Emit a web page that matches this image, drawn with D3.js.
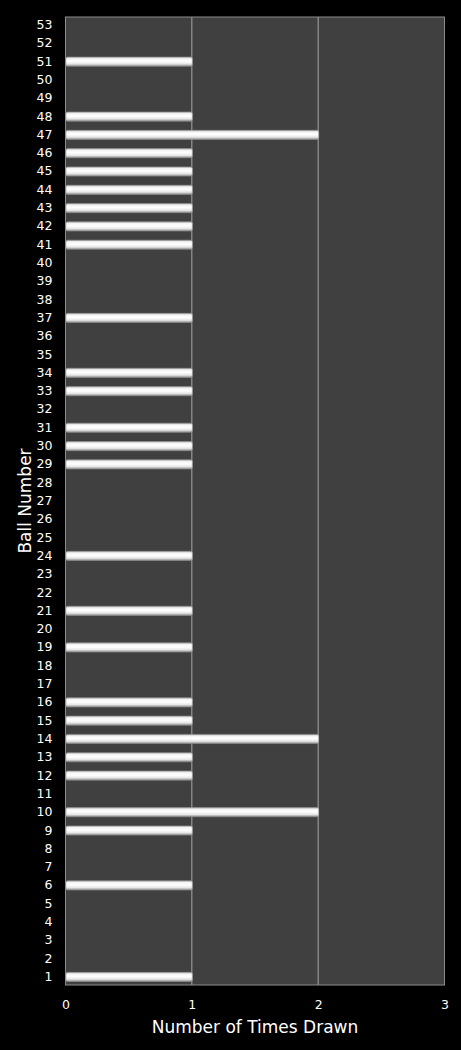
<!DOCTYPE html>
<html>
<head>
<meta charset="utf-8">
<script src="https://cdn.jsdelivr.net/npm/d3@7"></script>
<style>
  html, body { margin: 0; padding: 0; background: #000; }
  #chart { width: 461px; height: 1050px; }
  text { font-family: "DejaVu Sans", sans-serif; fill: #fff; }
</style>
</head>
<body>
<div id="chart"></div>
<script>
var balls = d3.range(1, 54);
var drawnBalls = [1, 6, 9, 10, 12, 13, 14, 15, 16, 19, 21, 24, 29, 30, 31, 33, 34, 37, 41, 42, 43, 44, 45, 46, 47, 48, 51];
var drawnCounts = [1, 1, 1, 2, 1, 1, 2, 1, 1, 1, 1, 1, 1, 1, 1, 1, 1, 1, 1, 1, 1, 1, 1, 1, 2, 1, 1];
var xTicks = [0, 1, 2, 3];

(function () {
  var width = 461;
  var height = 1050;
  var margin = { top: 17, right: 16.5, bottom: 65, left: 65.5 };
  var innerWidth = width - margin.left - margin.right;
  var innerHeight = height - margin.top - margin.bottom;

  var svg = d3.select('#chart').append('svg')
    .attr('width', width)
    .attr('height', height);

  var defs = svg.append('defs');
  var grad = defs.append('linearGradient')
    .attr('id', 'barGrad')
    .attr('x1', 0).attr('y1', 0).attr('x2', 0).attr('y2', 1);
  [['0%', '#b8b8b8'], ['18%', '#f4f4f4'], ['45%', '#ffffff'], ['75%', '#e6e6e6'], ['100%', '#8c8c8c']]
    .forEach(function (s) {
      grad.append('stop').attr('offset', s[0]).attr('stop-color', s[1]);
    });

  var plot = svg.append('g')
    .attr('transform', 'translate(' + margin.left + ',' + margin.top + ')');

  var x = d3.scaleLinear().domain([0, 3]).range([0, innerWidth]);
  var y = d3.scaleBand().domain(balls).range([innerHeight, 0])
    .paddingInner(0.5).paddingOuter(0.19);

  plot.append('rect')
    .attr('width', innerWidth)
    .attr('height', innerHeight)
    .attr('fill', '#404040');

  plot.append('g')
    .selectAll('line')
    .data(xTicks.slice(1, -1))
    .enter().append('line')
    .attr('x1', function (d) { return x(d); })
    .attr('x2', function (d) { return x(d); })
    .attr('y1', 0)
    .attr('y2', innerHeight)
    .attr('stroke', '#a6a6a6')
    .attr('stroke-width', 1);

  plot.append('rect')
    .attr('width', innerWidth)
    .attr('height', innerHeight)
    .attr('fill', 'none')
    .attr('stroke', '#8c8c8c')
    .attr('stroke-width', 1);

  var data = drawnBalls.map(function (b, i) { return { ball: b, count: drawnCounts[i] }; });

  plot.append('g')
    .selectAll('rect')
    .data(data)
    .enter().append('rect')
    .attr('x', x(0) + 0.5)
    .attr('y', function (d) { return y(d.ball); })
    .attr('width', function (d) { return x(d.count) - x(0); })
    .attr('height', y.bandwidth())
    .attr('rx', 1.5)
    .attr('fill', 'url(#barGrad)')
    .attr('stroke', '#9a9a9a')
    .attr('stroke-width', 0.6);

  var yAxis = plot.append('g')
    .call(d3.axisLeft(y).tickSize(0).tickPadding(13));
  yAxis.select('.domain').remove();
  yAxis.selectAll('text')
    .style('font-size', '12.5px')
    .attr('fill', '#fff');

  var xAxis = plot.append('g')
    .attr('transform', 'translate(0,' + innerHeight + ')')
    .call(d3.axisBottom(x).tickValues(xTicks).tickFormat(d3.format('d')).tickSize(0).tickPadding(15));
  xAxis.select('.domain').remove();
  xAxis.selectAll('text')
    .style('font-size', '12.5px')
    .attr('fill', '#fff');

  svg.append('text')
    .attr('x', margin.left + innerWidth / 2)
    .attr('y', 1033)
    .attr('text-anchor', 'middle')
    .style('font-size', '17px')
    .text('Number of Times Drawn');

  svg.append('text')
    .attr('transform', 'translate(31,' + (margin.top + innerHeight / 2) + ') rotate(-90)')
    .attr('text-anchor', 'middle')
    .style('font-size', '17px')
    .text('Ball Number');
})();
</script>
</body>
</html>
